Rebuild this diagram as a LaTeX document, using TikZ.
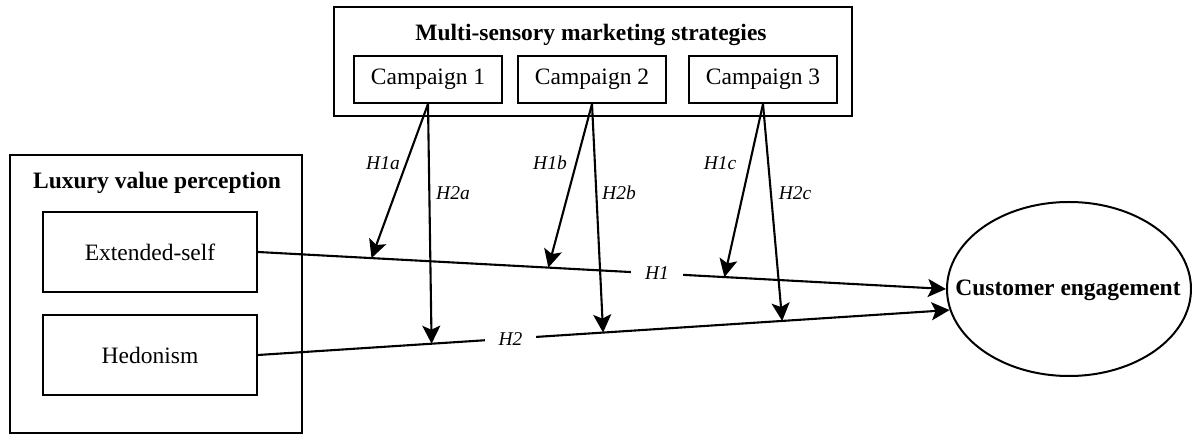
\documentclass[tikz,border=0pt]{standalone}
\usepackage{fontspec}
\setmainfont{Liberation Serif}
\usetikzlibrary{arrows.meta,calc,shapes.geometric}
\begin{document}
\begin{tikzpicture}[x=1pt,y=-1pt,
  frame/.style={draw, line width=2pt, inner sep=0pt},
  box/.style={draw, line width=2pt, inner sep=0pt, font=\fontsize{23.5}{28}\selectfont},
  heading/.style={font=\fontsize{23.5}{28}\selectfont\bfseries, inner sep=0pt},
  hyp/.style={font=\fontsize{19.5}{23}\selectfont\itshape, inner sep=0pt},
  gaplabel/.style={hyp, fill=white, inner xsep=14pt, inner ysep=3pt},
  link/.style={line width=2.1pt, -{Stealth[length=18pt,width=18pt,inset=4pt]}},
]
\useasboundingbox (0,0) rectangle (1192,435);

% Moderator block
\node[frame, minimum width=518pt, minimum height=109pt] (mss) at (593,61.5) {};
\node[heading] (mssT) at (591,35) {Multi-sensory marketing strategies};
\node[box, minimum width=148pt, minimum height=47pt] (c1) at (428,79.5) {Campaign 1};
\node[box, minimum width=148pt, minimum height=47pt] (c2) at (592,79.5) {Campaign 2};
\node[box, minimum width=148pt, minimum height=47pt] (c3) at (763,79.5) {Campaign 3};

% Independent variables block
\node[frame, minimum width=292pt, minimum height=278pt] (lvp) at (156,294) {};
\node[heading] (lvpT) at (157,183) {Luxury value perception};
\node[box, minimum width=214pt, minimum height=80pt] (es) at (150,252) {Extended-self};
\node[box, minimum width=214pt, minimum height=80pt] (hd) at (150,355) {Hedonism};

% Outcome
\node[ellipse, draw, line width=2pt, minimum width=244pt, minimum height=174pt, inner sep=0pt] (ce) at (1069,289) {};
\node[heading] (ceT) at (1068,290) {Customer engagement};

% Main paths
\coordinate (e1) at (ce.west);
\coordinate (e2) at (ce.190);
\draw[link] (es.east) -- node[gaplabel, pos=0.58] (h1) {H1} (e1);
\draw[link] (hd.east) -- node[gaplabel, pos=0.365] (h2) {H2} (e2);

% Points where the moderating arrows meet the main paths
\coordinate (t1a) at ($(es.east)!0.165!(e1)$);
\coordinate (t1b) at ($(es.east)!0.422!(e1)$);
\coordinate (t1c) at ($(es.east)!0.678!(e1)$);
\coordinate (t2a) at ($(hd.east)!0.251!(e2)$);
\coordinate (t2b) at ($(hd.east)!0.499!(e2)$);
\coordinate (t2c) at ($(hd.east)!0.758!(e2)$);

% Moderating arrows
\draw[link] (c1.south) -- (t1a);
\draw[link] (c1.south) -- (t2a);
\draw[link] (c2.south) -- (t1b);
\draw[link] (c2.south) -- (t2b);
\draw[link] (c3.south) -- (t1c);
\draw[link] (c3.south) -- (t2c);

% Hypothesis labels
\node[hyp] (l1a) at (383,163) {H1a};
\node[hyp] (l2a) at (453,193) {H2a};
\node[hyp] (l1b) at (550,163) {H1b};
\node[hyp] (l2b) at (619,193) {H2b};
\node[hyp] (l1c) at (720,163) {H1c};
\node[hyp] (l2c) at (795,193) {H2c};
\end{tikzpicture}
\end{document}
